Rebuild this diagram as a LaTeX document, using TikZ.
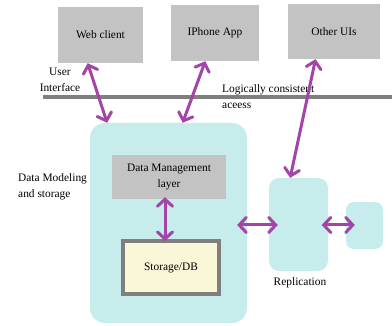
\documentclass[tikz,border=0pt]{standalone}
\usepackage{fontspec}
\setmainfont{Liberation Serif}
\usetikzlibrary{arrows.meta,calc}
\definecolor{boxgray}{HTML}{C3C3C3}
\definecolor{tealfill}{HTML}{C6ECEC}
\definecolor{linegray}{HTML}{7F7F7F}
\definecolor{dbfill}{HTML}{FAF6D8}
\definecolor{arrowpurple}{HTML}{A344A8}
\begin{document}
\begin{tikzpicture}[x=1pt,y=-1pt,
  every node/.style={font=\fontsize{11.4}{16}\selectfont, inner sep=0pt},
  uibox/.style={fill=boxgray, minimum width=#1, minimum height=56pt},
  tealbox/.style={fill=tealfill, rounded corners=#1},
  label/.style={align=left},
  link/.style={draw=arrowpurple, line width=3pt, line cap=round,
    {Straight Barb[length=7pt,width=15pt,line cap=round]}-{Straight Barb[length=7pt,width=15pt,line cap=round]}}
]
\useasboundingbox (0,0) rectangle (392,326);

% client boxes
\node[uibox=85pt] (web) at (100.5,35) {Web client};
\node[uibox=88pt] (iphone) at (215,33) {IPhone App};
\node[uibox=92pt, minimum height=55pt] (other) at (334,31.5) {Other UIs};

% separator between the UI tier and the data tier
\coordinate (sepL) at (43,97);
\coordinate (sepR) at (392,97);
\draw[linegray, line width=3.5pt] (sepL) -- (sepR);
\node[align=center] (uilabel) at (60,80) {User\\Interface};
\node[label, anchor=west] (access) at (222,97) {Logically consistent\\aceess};

% data tier
\node[tealbox=15pt, minimum width=157pt, minimum height=200pt] (data) at (168.5,223) {};
\node[fill=boxgray, minimum width=114pt, minimum height=44pt, align=center] (dml) at (169,177) {Data Management\\layer};
\node[draw=linegray, line width=4pt, fill=dbfill, minimum width=96pt, minimum height=53pt] (db) at (171,267.5) {Storage/DB};
\node[label, anchor=west] (datalabel) at (18,187) {Data Modeling\\and storage};

% replication
\node[tealbox=10pt, minimum width=59pt, minimum height=93pt] (repl) at (298.5,224.5) {};
\node[tealbox=8pt, minimum width=37pt, minimum height=47pt] (replica) at (364.5,225.5) {};
\node (repllabel) at (300,283) {Replication};

% connectors
\draw[link] ($(web.south west)!0.35!(web.south east)$) -- ($(data.north west)!0.11!(data.north east)$);
\draw[link] ($(iphone.south west)!0.39!(iphone.south east)$) -- ($(data.north west)!0.59!(data.north east)$);
\draw[link] ($(other.south west)!0.30!(other.south east)$) -- ($(repl.north west)!0.36!(repl.north east)$);
\draw[link] ($(dml.south)+(-4,-2)$) -- ($(db.north)+(-6,2)$);
\draw[link] ($(data.east)+(-10,2)$) -- ($(repl.west)+(9,0.5)$);
\draw[link] ($(repl.east)+(-6.5,0.5)$) -- ($(replica.west)+(9,-0.5)$);
\end{tikzpicture}
\end{document}
